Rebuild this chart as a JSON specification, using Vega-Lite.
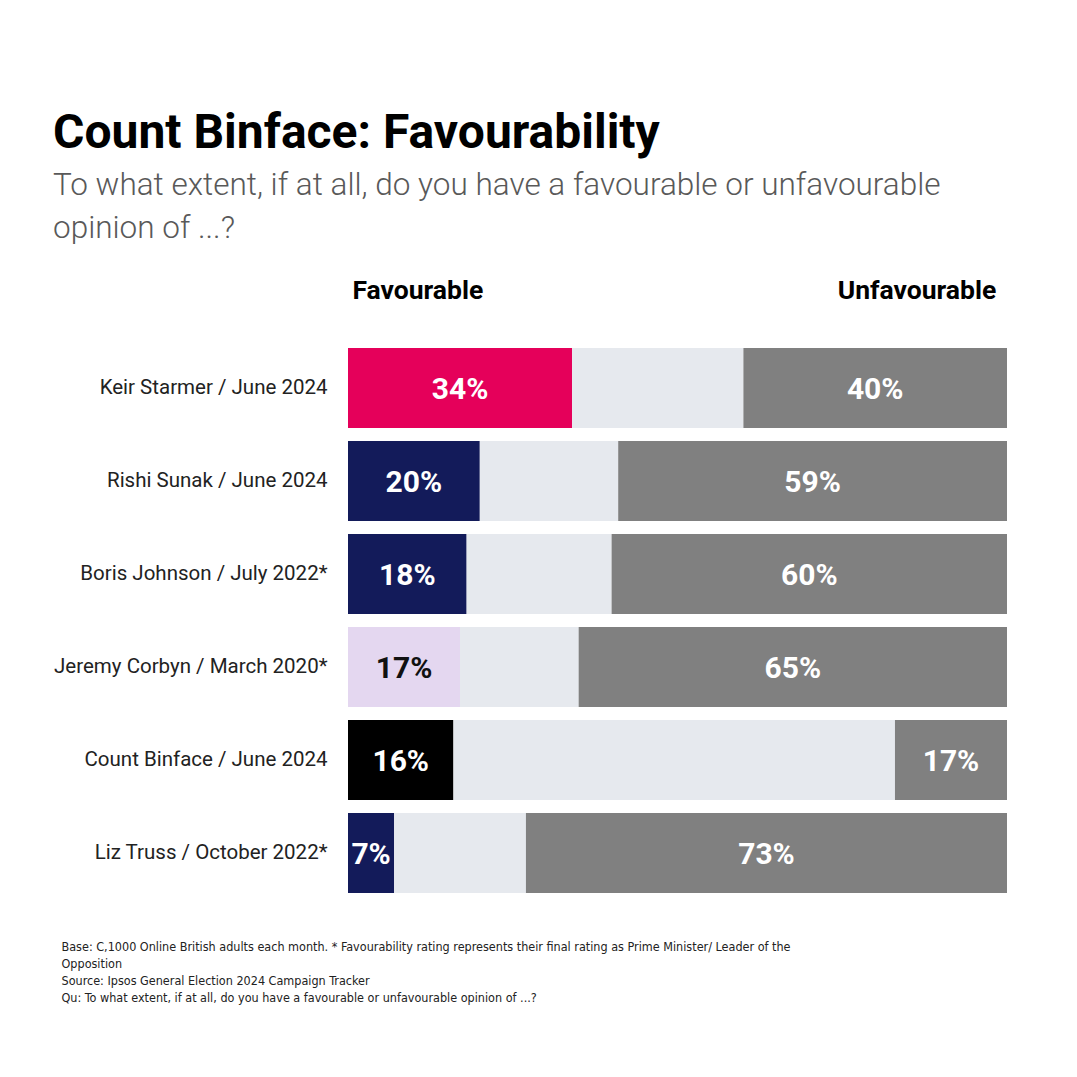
{
  "$schema": "https://vega.github.io/schema/vega-lite/v6.json",
  "width": 659,
  "height": 545,
  "autosize": {"type": "none"},
  "padding": {"left": 348, "top": 348, "right": 70, "bottom": 184},
  "background": "white",
  "title": {
    "text": "Count Binface: Favourability",
    "subtitle": ["To what extent, if at all, do you have a favourable or unfavourable", "opinion of ...?"],
    "anchor": "start",
    "frame": "group",
    "dx": -295,
    "offset": 33,
    "font": "Roboto",
    "fontSize": 48,
    "fontWeight": "bold",
    "color": "#000000",
    "subtitleFont": "Roboto",
    "subtitleFontSize": 31.5,
    "subtitleFontWeight": 300,
    "subtitleColor": "#595959",
    "subtitleLineHeight": 43,
    "subtitlePadding": 12
  },
  "data": {
    "values": [
      {"person": "Keir Starmer / June 2024", "series": "Keir Starmer", "segment": "Favourable", "order": 1, "value": 34, "label": "34%"},
      {"person": "Keir Starmer / June 2024", "series": "Neither", "segment": "Neither", "order": 2, "value": 26, "label": ""},
      {"person": "Keir Starmer / June 2024", "series": "Unfavourable", "segment": "Unfavourable", "order": 3, "value": 40, "label": "40%"},
      {"person": "Rishi Sunak / June 2024", "series": "Rishi Sunak", "segment": "Favourable", "order": 1, "value": 20, "label": "20%"},
      {"person": "Rishi Sunak / June 2024", "series": "Neither", "segment": "Neither", "order": 2, "value": 21, "label": ""},
      {"person": "Rishi Sunak / June 2024", "series": "Unfavourable", "segment": "Unfavourable", "order": 3, "value": 59, "label": "59%"},
      {"person": "Boris Johnson / July 2022*", "series": "Boris Johnson", "segment": "Favourable", "order": 1, "value": 18, "label": "18%"},
      {"person": "Boris Johnson / July 2022*", "series": "Neither", "segment": "Neither", "order": 2, "value": 22, "label": ""},
      {"person": "Boris Johnson / July 2022*", "series": "Unfavourable", "segment": "Unfavourable", "order": 3, "value": 60, "label": "60%"},
      {"person": "Jeremy Corbyn / March 2020*", "series": "Jeremy Corbyn", "segment": "Favourable", "order": 1, "value": 17, "label": "17%"},
      {"person": "Jeremy Corbyn / March 2020*", "series": "Neither", "segment": "Neither", "order": 2, "value": 18, "label": ""},
      {"person": "Jeremy Corbyn / March 2020*", "series": "Unfavourable", "segment": "Unfavourable", "order": 3, "value": 65, "label": "65%"},
      {"person": "Count Binface / June 2024", "series": "Count Binface", "segment": "Favourable", "order": 1, "value": 16, "label": "16%"},
      {"person": "Count Binface / June 2024", "series": "Neither", "segment": "Neither", "order": 2, "value": 67, "label": ""},
      {"person": "Count Binface / June 2024", "series": "Unfavourable", "segment": "Unfavourable", "order": 3, "value": 17, "label": "17%"},
      {"person": "Liz Truss / October 2022*", "series": "Liz Truss", "segment": "Favourable", "order": 1, "value": 7, "label": "7%"},
      {"person": "Liz Truss / October 2022*", "series": "Neither", "segment": "Neither", "order": 2, "value": 20, "label": ""},
      {"person": "Liz Truss / October 2022*", "series": "Unfavourable", "segment": "Unfavourable", "order": 3, "value": 73, "label": "73%"}
    ]
  },
  "encoding": {
    "y": {
      "field": "person",
      "type": "nominal",
      "sort": null,
      "scale": {"paddingInner": 0.14, "paddingOuter": 0},
      "axis": {
        "orient": "left",
        "domain": false,
        "ticks": false,
        "labelPadding": 21,
        "labelFont": "Roboto",
        "labelFontSize": 20.5,
        "labelColor": "#222222",
        "labelLimit": 400,
        "title": [
          "Base: C,1000 Online British adults each month. * Favourability rating represents their final rating as Prime Minister/ Leader of the",
          "Opposition",
          "Source: Ipsos General Election 2024 Campaign Tracker",
          "Qu: To what extent, if at all, do you have a favourable or unfavourable opinion of ...?"
        ],
        "titleAngle": 0,
        "titleAlign": "left",
        "titleBaseline": "top",
        "titleX": -287,
        "titleY": 592,
        "titleFont": "Liberation Sans Narrow, DejaVu Sans Condensed, Roboto",
        "titleFontSize": 12.5,
        "titleFontWeight": "normal",
        "titleColor": "#222222",
        "titleLineHeight": 17
      }
    },
    "x": {
      "field": "value",
      "type": "quantitative",
      "stack": "zero",
      "scale": {"domain": [0, 100], "nice": false},
      "axis": {
        "orient": "top",
        "values": [0.6, 98.3],
        "labelExpr": "datum.value < 50 ? 'Favourable' : 'Unfavourable'",
        "labelAlign": {"expr": "datum.value < 50 ? 'left' : 'right'"},
        "labelFont": "Roboto",
        "labelFontSize": 26.5,
        "labelFontWeight": "bold",
        "labelColor": "#000000",
        "labelPadding": 50,
        "labelBaseline": "alphabetic",
        "domain": false,
        "ticks": false,
        "grid": false,
        "title": null
      }
    },
    "order": {"field": "order", "type": "quantitative"}
  },
  "layer": [
    {
      "mark": {"type": "bar"},
      "encoding": {
        "color": {
          "field": "series",
          "type": "nominal",
          "legend": null,
          "scale": {
            "domain": ["Keir Starmer", "Rishi Sunak", "Boris Johnson", "Jeremy Corbyn", "Count Binface", "Liz Truss", "Neither", "Unfavourable"],
            "range": ["#E5005A", "#131B5A", "#131B5A", "#E4D7F0", "#000000", "#131B5A", "#E6E9EE", "#808080"]
          }
        }
      }
    },
    {
      "mark": {"type": "text", "font": "Roboto", "fontSize": 30, "fontWeight": "bold", "baseline": "middle", "align": "center", "dy": 2},
      "encoding": {
        "x": {"field": "value", "type": "quantitative", "stack": "zero", "bandPosition": 0.5},
        "text": {"field": "label"},
        "color": {
          "condition": {"test": "datum.series === 'Jeremy Corbyn'", "value": "#111111"},
          "value": "#FFFFFF"
        }
      }
    }
  ],
  "config": {"view": {"stroke": null}}
}
